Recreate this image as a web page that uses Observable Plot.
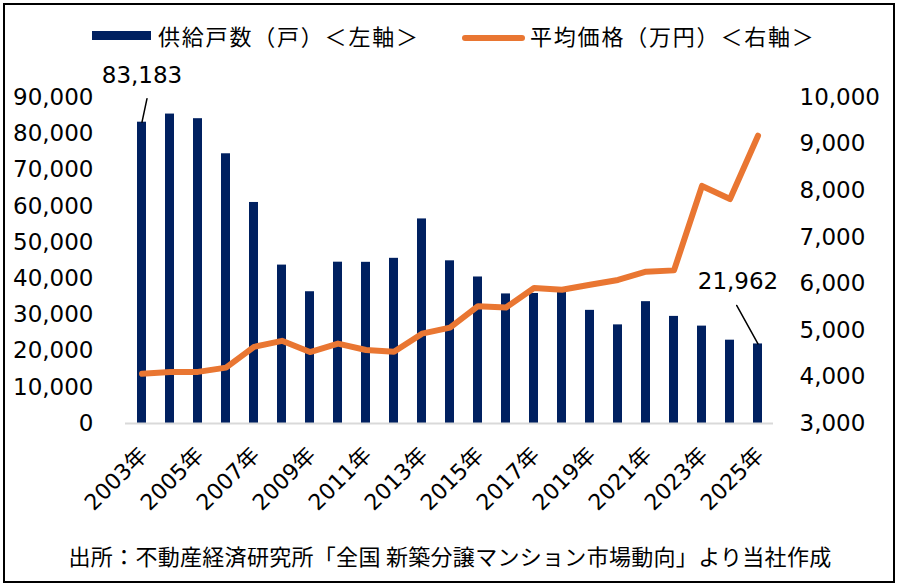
<!DOCTYPE html>
<html><head><meta charset="utf-8">
<script src="https://cdn.jsdelivr.net/npm/d3@7"></script>
<script src="https://cdn.jsdelivr.net/npm/@observablehq/plot@0.6"></script>
<style>
html,body{margin:0;padding:0;background:#fff;}
#wrap{position:relative;width:900px;height:588px;overflow:hidden;font-family:"Noto Sans CJK JP","DejaVu Sans",sans-serif;color:#000;}
#frame{position:absolute;left:3px;top:3px;width:892px;height:580px;box-sizing:border-box;border:2px solid #000;pointer-events:none;}
#legend{position:relative;height:60px;}
.sw1{position:absolute;left:92px;top:31px;width:59px;height:9px;background:#002060;}
.sw2{position:absolute;left:462px;top:35px;width:63px;height:6px;border-radius:3px;background:#E97632;}
.lt{position:absolute;top:24px;font-size:22px;letter-spacing:1.8px;line-height:22px;white-space:nowrap;}
#chart svg{display:block;}
#caption{position:absolute;top:543px;left:0;width:900px;text-align:center;font-size:22px;letter-spacing:0.3px;line-height:24px;white-space:nowrap;}
</style>
</head><body>
<div id="wrap">
  <div id="legend">
    <div class="sw1"></div><div class="lt" style="left:158px">供給戸数（戸）＜左軸＞</div>
    <div class="sw2"></div><div class="lt" style="left:530px">平均価格（万円）＜右軸＞</div>
  </div>
  <div id="chart"></div>
  <div id="caption">出所：不動産経済研究所「全国 新築分譲マンション市場動向」より当社作成</div>
  <div id="frame"></div>
</div>
<script>
const years = ["2003","2004","2005","2006","2007","2008","2009","2010","2011","2012","2013","2014","2015","2016","2017","2018","2019","2020","2021","2022","2023","2024","2025"];
const supply = [83183, 85429, 84148, 74463, 61021, 43733, 36376, 44535, 44499, 45602, 56478, 44913, 40449, 35772, 35898, 37132, 31238, 27228, 33636, 29569, 26886, 23003, 21962];
const price = [4069, 4104, 4108, 4200, 4644, 4775, 4535, 4716, 4578, 4540, 4929, 5060, 5518, 5490, 5908, 5871, 5980, 6083, 6260, 6288, 8101, 7820, 9180];
const leftTicks = [0, 10000, 20000, 30000, 40000, 50000, 60000, 70000, 80000, 90000];
const rightTicks = [3000, 4000, 5000, 6000, 7000, 8000, 9000, 10000];
const labelYears = ["2003","2005","2007","2009","2011","2013","2015","2017","2019","2021","2023","2025"];
const annotated = ["2003", "2025"];

const fmt = d3.format(",");
const toLeft = v => (v - 3000) / 7000 * 90000;
const fromLeft = v => v / 90000 * 7000 + 3000;
const rows = years.map((y, i) => ({year: y, supply: supply[i], price: price[i]}));
const first = rows.filter(d => d.year === annotated[0]);
const last = rows.filter(d => d.year === annotated[1]);
const lineShape = {draw(context, l) { context.moveTo(0, 0); context.lineTo(0, -l); }};

const chart = Plot.plot({
  width: 900, height: 470,
  marginLeft: 125, marginRight: 127, marginTop: 37, marginBottom: 107,
  style: {fontFamily: '"DejaVu Sans","Noto Sans CJK JP",sans-serif', fontSize: "23px", color: "#000", background: "transparent", overflow: "visible"},
  x: {type: "band", domain: years, paddingInner: 0.68, paddingOuter: 0.34, axis: null},
  y: {domain: [0, 90000], axis: null},
  marks: [
    Plot.barY(rows, {x: "year", y: "supply", fill: "#002060"}),
    Plot.ruleY([0], {stroke: "#d9d9d9", strokeWidth: 2}),
    Plot.line(rows, {x: "year", y: d => toLeft(d.price), stroke: "#E97632", strokeWidth: 6, strokeLinejoin: "round", strokeLinecap: "round"}),
    Plot.axisY(leftTicks, {anchor: "left", label: null, tickSize: 0, tickPadding: 32, tickFormat: fmt, fontSize: 23}),
    Plot.axisY(rightTicks.map(toLeft), {anchor: "right", label: null, tickSize: 0, tickPadding: 26, tickFormat: d => fmt(Math.round(fromLeft(d))), fontSize: 23}),
    Plot.text(labelYears, {x: d => d, y: () => 0, text: d => d + "年", rotate: -45, textAnchor: "end", lineAnchor: "middle", dx: 2, dy: 28, fontSize: 22}),
    Plot.text(first, {x: "year", y: "supply", text: d => fmt(d.supply), dy: -47, fontSize: 23}),
    Plot.vector(first, {x: "year", y: "supply", length: 24, rotate: 12, anchor: "start", stroke: "#000", strokeWidth: 1.5, shape: lineShape}),
    Plot.text(last, {x: "year", y: "supply", text: d => fmt(d.supply), dx: -20, dy: -62, fontSize: 23}),
    Plot.vector(last, {x: "year", y: "supply", length: 44, rotate: -29, anchor: "start", stroke: "#000", strokeWidth: 1.5, shape: lineShape})
  ]
});
document.getElementById("chart").appendChild(chart);
</script>
</body></html>
